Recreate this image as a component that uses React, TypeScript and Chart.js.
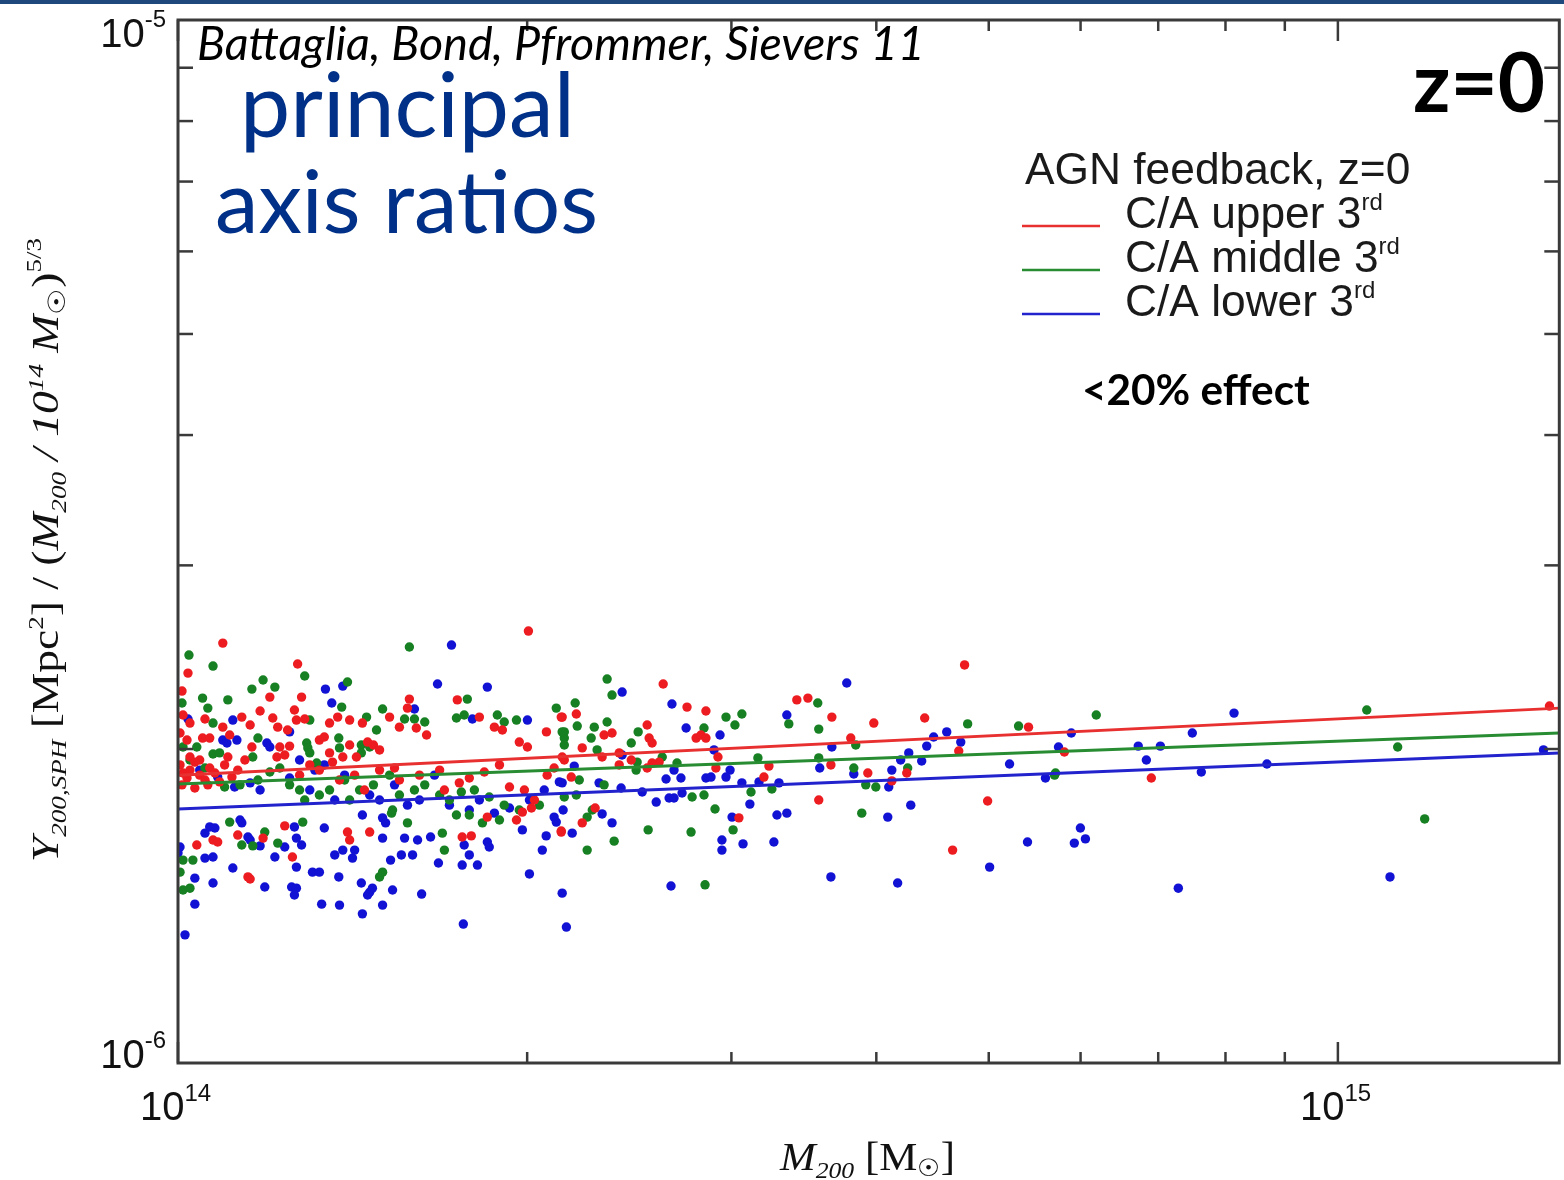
import React, { useEffect, useRef } from "react";
import { Chart, registerables } from "chart.js";

Chart.register(...registerables);

// ---------- units ----------
const MASS_UNIT = 1e14; // M200 values below are in units of 1e14 Msun
const Y_UNIT = 1e-6; // Y values below are in units of 1e-6

const X_MIN = 1.0;
const X_MAX = 15.52;
const Y_MIN = 1.0;
const Y_MAX = 10.0;

// ---------- tick values ----------
const X_MAJOR_TICKS = [1, 10];
const X_MINOR_TICKS = [2, 3, 4, 5, 6, 7, 8, 9];
const X_TICK_EXPONENTS = ["14", "15"];
const Y_MAJOR_TICKS = [10, 1];
const Y_MINOR_TICKS = [2, 3, 4, 5, 6, 7, 8, 9];
const Y_TICK_EXPONENTS = ["-5", "-6"];

// ---------- fit lines ----------
const FIT_MASS = [1.0, 15.52];
const RED_FIT_Y = [1.888, 2.189];
const GREEN_FIT_Y = [1.851, 2.072];
const BLUE_FIT_Y = [1.752, 1.983];

// ---------- C/A upper third (red) ----------
const RED_MASS = [
  1.093, 1.020, 1.268, 2.005, 1.008, 1.200, 1.278, 1.177, 1.583, 1.577,
  1.741, 2.144, 1.010, 1.024, 1.055, 1.135, 1.154, 1.093, 1.207, 1.219,
  1.260, 1.265, 1.286, 1.243, 1.351, 1.373, 1.406, 1.442, 1.522, 1.552,
  1.605, 1.638, 1.819, 1.874, 1.904, 1.969, 2.001, 2.078, 1.004, 1.018,
  1.050, 1.065, 1.108, 1.224, 1.248, 1.024, 1.044, 1.104, 1.158, 1.217,
  1.236, 1.324, 1.337, 1.406, 1.457, 1.474, 1.492, 1.351, 1.387, 1.425,
  1.004, 1.010, 1.018, 1.024, 1.034, 1.044, 1.055, 1.065, 1.076, 1.086,
  1.097, 1.113, 1.126, 1.142, 1.008, 1.034, 1.061,
  1.273, 1.299, 1.324, 1.359, 1.378, 1.420, 1.448, 1.492, 1.537, 1.552,
  1.615, 1.681, 1.697, 1.748, 1.783, 1.837, 1.893, 1.931, 1.989, 2.029,
  2.081, 2.110, 2.153,
  1.038, 1.072, 1.082, 1.149, 1.154, 1.126, 1.184, 1.236, 1.255, 1.400,
  1.406, 1.463, 1.758, 1.790, 1.848, 1.958, 1.981, 2.017, 2.140,
  2.620, 2.747, 2.852, 4.766, 3.416, 3.492, 3.662, 3.980, 4.403, 5.411,
  4.711, 3.933, 4.249, 4.125, 3.802, 3.655, 3.568, 4.989, 4.654, 3.045,
  3.200, 3.232, 2.921, 2.909, 2.797, 2.824, 2.852, 2.599, 2.563, 2.538,
  2.459, 2.401, 2.538, 2.548, 2.563, 2.330, 2.367, 2.231, 2.321, 2.183,
  2.289, 2.231, 2.140, 2.205, 2.140, 2.144, 2.401,
  5.810, 6.905, 15.22,
];
const RED_Y = [
  2.527, 2.365, 2.413, 2.595, 2.273, 2.243, 2.243, 2.175, 2.233, 2.189,
  2.229, 2.146, 2.156, 2.118, 2.137, 2.146, 2.109, 2.099, 2.142, 2.099,
  2.180, 2.132, 2.137, 2.086, 2.118, 2.146, 2.132, 2.118, 2.146, 2.099,
  2.095, 2.063, 2.146, 2.099, 2.086, 2.031, 2.009, 2.077, 2.072, 2.040,
  2.049, 2.049, 2.063, 2.009, 2.013, 1.965, 1.952, 1.965, 2.009, 1.965,
  1.974, 2.040, 2.054, 2.018, 2.031, 2.018, 1.996, 1.983, 1.965, 1.965,
  1.931, 1.897, 1.876, 1.909, 1.943, 1.888, 1.868, 1.918, 1.897, 1.860,
  1.931, 1.880, 1.909, 1.952, 1.848, 1.835, 1.848,
  1.888, 1.931, 1.909, 1.943, 1.868, 1.888, 1.827, 1.909, 1.918, 1.868,
  1.888, 1.909, 1.827, 1.856, 1.876, 1.901, 1.931, 1.839, 1.827, 1.787,
  1.888, 1.918, 1.952,
  1.618, 1.636, 1.629, 1.508, 1.501, 1.654, 1.643, 1.688, 1.576, 1.665,
  1.636, 1.665, 1.647, 1.651, 1.721, 1.710, 1.740, 1.756, 1.669,
  2.309, 2.194, 2.175, 2.408, 2.229, 2.238, 2.146, 2.118, 2.142, 2.099,
  1.991, 1.897, 1.897, 1.864, 2.049, 1.931, 1.787, 1.783, 1.600, 1.718,
  1.880, 1.926, 1.965, 1.918, 2.049, 2.063, 2.049, 1.943, 1.939, 1.918,
  1.952, 1.931, 2.109, 2.049, 2.027, 2.063, 2.072, 2.005, 1.965, 1.880,
  1.756, 1.699, 1.665, 2.161, 2.146, 1.965, 1.983,
  1.987, 1.876, 2.199,
];

// ---------- C/A middle third (green) ----------
const GREEN_MASS = [
  1.022, 1.072, 1.286, 1.583, 1.184, 1.212, 1.158, 1.008, 1.050, 1.104,
  1.061, 1.400, 1.384, 1.776, 1.501, 2.119, 1.072, 1.299, 1.454, 1.483,
  1.568, 1.599, 1.632, 1.738, 1.765, 1.885, 1.958, 1.911, 2.153, 2.153,
  1.172, 1.010, 1.038, 1.072, 1.086, 1.160, 1.291, 1.294, 1.376, 1.378,
  1.439, 1.439, 1.463, 1.299, 1.317, 1.024, 1.055, 1.097, 1.131, 1.172,
  1.200, 1.224, 1.248, 1.273, 1.286, 1.324, 1.351, 1.392, 1.406, 1.434,
  1.474, 1.522, 1.552, 1.599, 1.632, 1.681, 1.714, 1.755, 1.801, 1.855,
  1.911, 1.969, 2.049, 1.010, 1.030, 1.004, 1.010, 1.024, 1.108, 1.135,
  1.160, 1.188, 1.219, 1.281, 1.492, 1.501, 1.528, 1.531, 1.577, 1.690,
  1.697, 1.738, 1.783, 1.830, 1.893, 2.344, 2.367, 2.968, 3.021, 3.063,
  3.561, 3.362, 3.568, 4.795, 5.305, 4.257, 3.917, 3.996, 5.709, 3.840,
  3.568, 3.825, 3.886, 2.847, 2.253, 2.377, 2.543, 2.769, 3.010, 2.904,
  3.119, 3.251, 3.162, 2.841, 2.693, 2.615, 2.483, 2.488, 2.493, 2.459,
  2.285, 2.344, 2.271, 2.298, 2.218, 2.330, 2.775, 2.841, 2.153, 2.205,
  2.276, 2.253, 2.200, 2.209, 2.144, 2.153, 6.190, 5.698, 10.59, 11.26, 11.88,
];
const GREEN_Y = [
  2.461, 2.402, 2.350, 2.505, 2.329, 2.293, 2.283, 2.214, 2.238, 2.229,
  2.189, 2.319, 2.194, 2.233, 2.185, 2.189, 2.118, 2.132, 2.146, 2.086,
  2.137, 2.137, 2.123, 2.142, 2.156, 2.156, 2.132, 2.123, 2.077, 2.049,
  2.049, 2.009, 2.009, 1.978, 1.983, 1.965, 2.027, 2.005, 2.049, 2.005,
  2.018, 1.983, 2.009, 1.983, 1.939, 1.952, 1.918, 1.839, 1.848, 1.868,
  1.901, 1.918, 1.848, 1.827, 1.787, 1.807, 1.827, 1.868, 1.787, 1.827,
  1.848, 1.888, 1.807, 1.827, 1.848, 1.807, 1.787, 1.819, 1.827, 1.799,
  1.767, 1.748, 1.767, 1.565, 1.565, 1.524, 1.465, 1.471, 1.702, 1.618,
  1.615, 1.665, 1.625, 1.702, 1.508, 1.524, 1.736, 1.748, 1.699, 1.661,
  1.600, 1.729, 1.729, 1.699, 1.710, 2.334, 2.253, 2.146, 2.109, 2.161,
  2.214, 2.114, 2.090, 2.114, 2.104, 1.918, 1.848, 1.839, 1.897, 2.018,
  1.961, 1.918, 1.736, 1.482, 1.600, 1.632, 1.673, 1.665, 1.673, 1.752,
  1.819, 1.831, 1.961, 2.095, 1.939, 1.965, 1.909, 1.943, 2.077, 2.027,
  2.099, 2.123, 2.049, 1.996, 1.868, 1.848, 1.799, 1.807, 1.799, 1.807,
  1.748, 1.721, 2.214, 2.104, 2.077, 2.018, 2.156, 1.888, 2.180, 2.009, 1.714,
];

// ---------- C/A lower third (blue) ----------
const BLUE_MASS = [
  1.721, 1.340, 1.387, 1.357, 1.674, 1.848, 1.599, 1.020, 1.115, 1.248,
  1.794, 2.001, 1.093, 1.102, 1.124, 1.193, 1.200, 1.044, 1.082, 1.119,
  1.154, 1.177, 1.248, 1.273, 1.299, 1.312, 1.337, 1.365, 1.392, 1.463,
  1.492, 1.537, 1.577, 1.615, 1.664, 1.714, 1.783, 1.819, 1.874, 1.931,
  2.009, 2.069, 2.132, 1.004, 1.000, 1.034, 1.034, 1.014, 1.055, 1.065,
  1.076, 1.055, 1.072, 1.072, 1.115, 1.188, 1.131, 1.135, 1.149, 1.154,
  1.177, 1.236, 1.260, 1.265, 1.278, 1.212, 1.265, 1.253, 1.260, 1.265,
  1.306, 1.324, 1.330, 1.337, 1.378, 1.376, 1.365, 1.387, 1.414, 1.420,
  1.442, 1.439, 1.463, 1.471, 1.457, 1.501, 1.525, 1.531, 1.501, 1.442,
  1.501, 1.510, 1.568, 1.609, 1.651, 1.558, 1.593, 1.622, 1.677, 1.762,
  1.765, 1.783, 1.758, 1.812, 1.848, 1.855, 1.981, 2.009, 2.061, 2.077,
  2.110, 2.119, 2.144, 2.162, 2.415, 2.666, 3.772, 3.349, 4.600, 4.482,
  4.421, 4.730, 4.266, 4.198, 4.377, 4.125, 4.100, 5.211, 5.596, 3.662,
  3.575, 3.825, 4.092, 4.283, 5.400, 5.009, 3.655, 4.173, 2.661,
  2.367, 2.944, 2.944, 3.070, 3.264, 3.112, 3.004, 3.284, 3.349,
  3.169, 3.063, 3.297, 2.992, 2.968, 2.852, 2.881, 2.898, 2.933, 2.742,
  2.677, 2.714, 2.635, 2.415, 2.196, 2.307, 2.410, 2.513, 2.584, 2.651,
  2.677, 2.720, 2.148, 2.187, 2.321, 2.144,
  5.891, 5.743, 6.728, 7.030, 6.837, 7.490, 8.137, 7.625, 8.686, 15.04,
  5.998, 5.926, 6.058, 7.285, 11.09,
];
const BLUE_Y = [
  2.516, 2.283, 2.298, 2.214, 2.309, 2.293, 2.185, 2.137, 2.132, 2.077,
  2.137, 2.132, 2.040, 2.027, 2.040, 2.027, 2.009, 1.909, 1.880, 1.839,
  1.856, 1.827, 1.876, 1.952, 1.827, 1.909, 1.931, 1.787, 1.888, 1.807,
  1.787, 1.848, 1.767, 1.787, 1.888, 1.767, 1.748, 1.787, 1.736, 1.756,
  1.787, 1.827, 1.860, 1.611, 1.590, 1.504, 1.420, 1.327, 1.661, 1.684,
  1.680, 1.572, 1.576, 1.488, 1.538, 1.475, 1.710, 1.699, 1.647, 1.636,
  1.615, 1.611, 1.684, 1.643, 1.618, 1.576, 1.541, 1.475, 1.449, 1.471,
  1.524, 1.524, 1.420, 1.680, 1.417, 1.508, 1.583, 1.600, 1.572, 1.600,
  1.390, 1.488, 1.458, 1.471, 1.449, 1.417, 1.565, 1.465, 1.643, 1.729,
  1.718, 1.699, 1.643, 1.636, 1.647, 1.583, 1.583, 1.452, 1.555, 1.359,
  1.618, 1.583, 1.548, 1.548, 1.629, 1.611, 1.673, 1.518, 1.600, 1.651,
  1.721, 1.702, 1.455, 1.350, 2.268, 2.209, 2.314, 2.156, 2.077, 2.054,
  2.013, 2.031, 1.983, 1.952, 1.948, 1.909, 1.839, 1.935, 1.876, 2.009,
  1.918, 1.893, 1.721, 1.767, 1.629, 1.541, 1.508, 1.488, 1.478,
  1.699, 1.636, 1.600, 1.622, 1.629, 1.771, 1.721, 1.729, 1.736,
  1.860, 1.856, 1.856, 1.909, 1.880, 1.876, 1.880, 1.996, 2.063, 2.095,
  1.909, 1.876, 1.872, 1.974, 1.926, 1.856, 1.835, 1.819, 1.779, 1.795,
  1.795, 1.815, 1.748, 1.661, 1.733, 1.856,
  2.072, 2.009, 2.013, 2.013, 1.952, 2.072, 2.165, 1.901, 1.935, 1.996,
  1.680, 1.625, 1.640, 1.471, 1.508,
];

const LEGEND_TITLE = "AGN feedback, z=0";
const LEGEND_LABELS = ["C/A upper 3", "C/A middle 3", "C/A lower 3"];
const LEGEND_SUP = "rd";

// ---------- styles ----------
const RED = "rgb(236,28,32)";
const GREEN = "rgb(22,128,34)";
const BLUE = "rgb(18,18,212)";
const RED_LINE = "rgb(232,48,48)";
const GREEN_LINE = "rgb(40,140,50)";
const BLUE_LINE = "rgb(35,35,205)";
const NAVY = "rgb(0,48,135)";
const SANS = '"Liberation Sans", Arial, Helvetica, sans-serif';
const SERIF = '"Liberation Serif", "DejaVu Serif", "Times New Roman", serif';
const HUMAN = 'Lato, "Open Sans", "Noto Sans", sans-serif';

const toPoints = (ms: number[], ys: number[]) => {
  const n = Math.min(ms.length, ys.length);
  const out: { x: number; y: number }[] = [];
  for (let i = 0; i < n; i++) out.push({ x: ms[i] * MASS_UNIT, y: ys[i] * Y_UNIT });
  return out;
};

type Seg = { t: string; f: string; dy?: number };

function segWidth(ctx: CanvasRenderingContext2D, segs: Seg[]) {
  let w = 0;
  for (const s of segs) {
    ctx.font = s.f;
    w += ctx.measureText(s.t).width;
  }
  return w;
}

function drawSegs(ctx: CanvasRenderingContext2D, segs: Seg[], x: number, y: number) {
  let cx = x;
  for (const s of segs) {
    ctx.font = s.f;
    ctx.fillText(s.t, cx, y + (s.dy || 0));
    cx += ctx.measureText(s.t).width;
  }
}

function fitFont(ctx: CanvasRenderingContext2D, text: string, style: string, family: string, target: number) {
  ctx.font = `${style} 100px ${family}`;
  const w = ctx.measureText(text).width;
  const size = (100 * target) / w;
  return `${style} ${size.toFixed(1)}px ${family}`;
}

const decorPlugin = {
  id: "decor",
  afterDraw(chart: any) {
    const ctx: CanvasRenderingContext2D = chart.ctx;
    const { left, right, top, bottom } = chart.chartArea;
    const xs = chart.scales.x;
    const ys = chart.scales.y;
    ctx.save();
    ctx.textAlign = "left";
    ctx.textBaseline = "alphabetic";

    // frame
    ctx.strokeStyle = "#3a3a3a";
    ctx.lineWidth = 3;
    ctx.strokeRect(left, top, right - left, bottom - top);

    const seg = (x1: number, y1: number, x2: number, y2: number) => {
      ctx.beginPath();
      ctx.moveTo(x1, y1);
      ctx.lineTo(x2, y2);
      ctx.stroke();
    };
    ctx.lineWidth = 2.5;
    for (const m of X_MINOR_TICKS) {
      const px = xs.getPixelForValue(m * MASS_UNIT);
      seg(px, bottom, px, bottom - 11);
      seg(px, top, px, top + 11);
    }
    for (const m of X_MAJOR_TICKS) {
      const px = xs.getPixelForValue(m * MASS_UNIT);
      seg(px, bottom, px, bottom - 21);
      seg(px, top, px, top + 21);
    }
    for (const v of Y_MINOR_TICKS) {
      const py = ys.getPixelForValue(v * Y_UNIT);
      seg(left, py, left + 15, py);
      seg(right, py, right - 15, py);
    }

    // tick labels
    ctx.fillStyle = "#111";
    const baseFont = `40px ${SANS}`;
    const expFont = `24px ${SANS}`;
    X_MAJOR_TICKS.forEach((m, i) => {
      const px = xs.getPixelForValue(m * MASS_UNIT);
      drawSegs(
        ctx,
        [
          { t: "10", f: baseFont },
          { t: X_TICK_EXPONENTS[i], f: expFont, dy: -19 },
        ],
        px - 38,
        bottom + 57
      );
    });
    Y_MAJOR_TICKS.forEach((v, i) => {
      const py = ys.getPixelForValue(v * Y_UNIT);
      const segs: Seg[] = [
        { t: "10", f: baseFont },
        { t: Y_TICK_EXPONENTS[i], f: expFont, dy: -20 },
      ];
      const w = segWidth(ctx, segs);
      const base = v === Y_MAX ? py + 27 : py + 5;
      drawSegs(ctx, segs, left - 12 - w, base);
    });

    // x title
    const xt: Seg[] = [
      { t: "M", f: `italic 40px ${SERIF}` },
      { t: "200", f: `italic 24px ${SERIF}`, dy: 8 },
      { t: " [M", f: `40px ${SERIF}` },
      { t: "☉", f: `24px ${SERIF}`, dy: 6 },
      { t: "]", f: `40px ${SERIF}` },
    ];
    {
      const w = segWidth(ctx, xt);
      ctx.save();
      ctx.translate(780, 1170);
      ctx.scale(175 / w, 1);
      drawSegs(ctx, xt, 0, 0);
      ctx.restore();
    }

    // y title (rotated)
    const yt: Seg[] = [
      { t: "Y", f: `italic 37px ${SERIF}` },
      { t: "200,SPH", f: `italic 22px ${SERIF}`, dy: 8 },
      { t: " [Mpc", f: `37px ${SERIF}` },
      { t: "2", f: `22px ${SERIF}`, dy: -15 },
      { t: "] / (", f: `37px ${SERIF}` },
      { t: "M", f: `italic 37px ${SERIF}` },
      { t: "200", f: `italic 22px ${SERIF}`, dy: 8 },
      { t: " / 10", f: `italic 37px ${SERIF}` },
      { t: "14", f: `italic 22px ${SERIF}`, dy: -15 },
      { t: " M", f: `italic 37px ${SERIF}` },
      { t: "☉", f: `24px ${SERIF}`, dy: 7 },
      { t: ")", f: `37px ${SERIF}` },
      { t: "5/3", f: `22px ${SERIF}`, dy: -17 },
    ];
    {
      const w = segWidth(ctx, yt);
      ctx.save();
      ctx.translate(58, 862);
      ctx.rotate(-Math.PI / 2);
      ctx.scale(624 / w, 1);
      drawSegs(ctx, yt, 0, 0);
      ctx.restore();
    }

    // citation
    ctx.fillStyle = "#000";
    const cite = "Battaglia, Bond, Pfrommer, Sievers 11";
    ctx.font = fitFont(ctx, cite, "italic", HUMAN, 728);
    ctx.fillText(cite, 197, 60);

    // principal axis ratios
    ctx.fillStyle = NAVY;
    ctx.font = fitFont(ctx, "principal", "normal", HUMAN, 335);
    ctx.fillText("principal", 240, 137);
    ctx.font = fitFont(ctx, "axis ratios", "normal", HUMAN, 383);
    ctx.fillText("axis ratios", 215, 233);

    // z=0
    ctx.fillStyle = "#000";
    ctx.font = fitFont(ctx, "z=0", "bold", HUMAN, 132);
    ctx.fillText("z=0", 1413, 112);

    // <20% effect
    ctx.font = fitFont(ctx, "<20% effect", "bold", HUMAN, 228);
    ctx.fillText("<20% effect", 1082, 405);

    // legend
    ctx.fillStyle = "#1a1a1a";
    const legFont = fitFont(ctx, LEGEND_TITLE, "normal", SANS, 385);
    ctx.font = legFont;
    ctx.fillText(LEGEND_TITLE, 1025, 184);
    const colors = [RED_LINE, GREEN_LINE, BLUE_LINE];
    const baselines = [228, 272, 316];
    LEGEND_LABELS.forEach((lab, i) => {
      ctx.strokeStyle = colors[i];
      ctx.lineWidth = 2.5;
      seg(1022, baselines[i] - 2, 1100, baselines[i] - 2);
      drawSegs(
        ctx,
        [
          { t: lab, f: legFont },
          { t: LEGEND_SUP, f: `24px ${SANS}`, dy: -18 },
        ],
        1125,
        baselines[i]
      );
    });

    ctx.restore();
  },
};

export default function App() {
  const ref = useRef<HTMLCanvasElement | null>(null);
  useEffect(() => {
    if (!ref.current) return;
    const chart = new Chart(ref.current, {
      type: "scatter",
      data: {
        datasets: [
          {
            label: "fit upper",
            data: toPoints(FIT_MASS, RED_FIT_Y),
            showLine: true,
            borderColor: RED_LINE,
            borderWidth: 3,
            pointRadius: 0,
          },
          {
            label: "fit middle",
            data: toPoints(FIT_MASS, GREEN_FIT_Y),
            showLine: true,
            borderColor: GREEN_LINE,
            borderWidth: 3,
            pointRadius: 0,
          },
          {
            label: "fit lower",
            data: toPoints(FIT_MASS, BLUE_FIT_Y),
            showLine: true,
            borderColor: BLUE_LINE,
            borderWidth: 3,
            pointRadius: 0,
          },
          {
            label: "C/A upper 3rd",
            data: toPoints(RED_MASS, RED_Y),
            backgroundColor: RED,
            borderWidth: 0,
            pointRadius: 4.7,
          },
          {
            label: "C/A middle 3rd",
            data: toPoints(GREEN_MASS, GREEN_Y),
            backgroundColor: GREEN,
            borderWidth: 0,
            pointRadius: 4.7,
          },
          {
            label: "C/A lower 3rd",
            data: toPoints(BLUE_MASS, BLUE_Y),
            backgroundColor: BLUE,
            borderWidth: 0,
            pointRadius: 4.7,
          },
        ],
      } as any,
      options: {
        responsive: false,
        animation: false,
        layout: { padding: { top: 20, right: 2, left: 0, bottom: 0 } },
        plugins: { legend: { display: false }, tooltip: { enabled: false } },
        scales: {
          x: {
            type: "logarithmic",
            min: X_MIN * MASS_UNIT,
            max: X_MAX * MASS_UNIT,
            ticks: { display: false },
            grid: { display: false },
            border: { display: false },
            afterFit: (s: any) => {
              s.height = 117;
            },
          },
          y: {
            type: "logarithmic",
            min: Y_MIN * Y_UNIT,
            max: Y_MAX * Y_UNIT,
            ticks: { display: false },
            grid: { display: false },
            border: { display: false },
            afterFit: (s: any) => {
              s.width = 178;
            },
          },
        },
      } as any,
      plugins: [decorPlugin],
    });
    return () => chart.destroy();
  }, []);

  return (
    <div style={{ position: "absolute", left: 0, top: 0, width: 1564, height: 1180, background: "#fff" }}>
      <canvas ref={ref} width={1564} height={1180} style={{ display: "block" }} />
      <div style={{ position: "absolute", left: 0, top: 0, width: 1564, height: 4, background: "#1f497d" }} />
    </div>
  );
}
